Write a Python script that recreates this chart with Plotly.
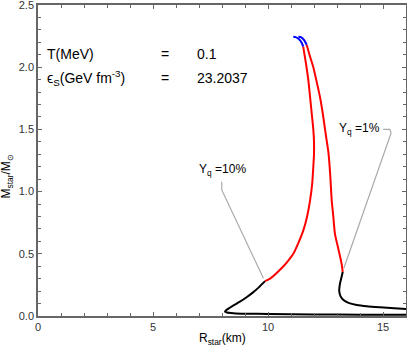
import plotly.graph_objects as go

# Yq = 10% branch (radius km, mass Msun)
r10_black = [16.0, 14.0, 12.0, 10.0, 9.0, 8.5, 8.22, 8.13, 8.2, 8.45, 8.78, 9.1, 9.35, 9.6, 9.87]
m10_black = [0.010, 0.011, 0.013, 0.016, 0.019, 0.023, 0.028, 0.035, 0.05, 0.08, 0.115, 0.155, 0.19, 0.23, 0.28]
r10_red = [9.87, 10.09, 10.4, 10.67, 10.9, 11.1, 11.35, 11.54, 11.7, 11.83, 11.92, 11.97, 12.0, 12.0, 11.97, 11.9, 11.83, 11.75, 11.65, 11.53]
m10_red = [0.28, 0.30, 0.35, 0.40, 0.45, 0.50, 0.60, 0.69, 0.80, 0.93, 1.06, 1.20, 1.30, 1.40, 1.50, 1.63, 1.76, 1.90, 2.03, 2.165]
r10_blue = [11.53, 11.47, 11.35, 11.2, 11.10]
m10_blue = [2.165, 2.195, 2.225, 2.242, 2.245]

# Yq = 1% branch
r1_blue = [11.32, 11.45, 11.58, 11.68]
m1_blue = [2.245, 2.24, 2.215, 2.18]
r1_red = [11.68, 11.82, 11.97, 12.12, 12.26, 12.38, 12.48, 12.56, 12.63, 12.7, 12.77, 12.84, 12.91, 13.02, 13.13, 13.2, 13.25]
m1_red = [2.18, 2.09, 2.0, 1.88, 1.76, 1.63, 1.50, 1.40, 1.31, 1.15, 0.93, 0.80, 0.66, 0.57, 0.48, 0.42, 0.355]
r1_black = [13.25, 13.18, 13.13, 13.1, 13.1, 13.15, 13.27, 13.5, 13.86, 14.3, 14.87, 15.5, 16.03]
m1_black = [0.355, 0.30, 0.26, 0.22, 0.195, 0.16, 0.13, 0.105, 0.088, 0.078, 0.07, 0.062, 0.056]

# annotation pointer lines
ptr10_x = [7.99, 7.99, 9.80]
ptr10_y = [1.08, 1.013, 0.303]
ptr1_x = [15.01, 15.30, 15.35, 13.30]
ptr1_y = [1.50, 1.50, 1.47, 0.386]

x_ticks = [0, 5, 10, 15]
y_ticks = [0.0, 0.5, 1.0, 1.5, 2.0, 2.5]

FONT = "Liberation Sans, Arial, sans-serif"

fig = go.Figure()
for xs, ys, col in [
    (ptr10_x, ptr10_y, "#aaaaaa"),
    (ptr1_x, ptr1_y, "#aaaaaa"),
]:
    fig.add_trace(go.Scatter(x=xs, y=ys, mode="lines", line=dict(color=col, width=1.2), showlegend=False, hoverinfo="skip"))

for xs, ys, col in [
    (r10_black, m10_black, "black"),
    (r10_red, m10_red, "red"),
    (r10_blue, m10_blue, "blue"),
    (r1_black, m1_black, "black"),
    (r1_red, m1_red, "red"),
    (r1_blue, m1_blue, "blue"),
]:
    fig.add_trace(go.Scatter(x=xs, y=ys, mode="lines", line=dict(color=col, width=2, shape="spline", smoothing=0.6), showlegend=False))

axis_common = dict(
    showline=True, linecolor="#666666", linewidth=1.5, mirror="ticks",
    ticks="inside", ticklen=4, tickcolor="#666666", tickwidth=1,
    showgrid=False, zeroline=False, automargin=False, ticklabeloverflow="allow",
    tickfont=dict(family=FONT, size=11, color="#333333"),
)

fig.update_xaxes(range=[0, 16], tickvals=x_ticks, ticktext=[str(v) for v in x_ticks],
                 minor=dict(dtick=1, ticks="inside", ticklen=3, tickcolor="#666666", showgrid=False),
                 **axis_common)
fig.update_yaxes(range=[0, 2.5], tickvals=y_ticks, ticktext=[f"{v:.1f}" for v in y_ticks],
                 minor=dict(dtick=0.1, ticks="inside", ticklen=3, tickcolor="#666666", showgrid=False),
                 **axis_common)

ann_font = dict(family=FONT, size=14, color="black")
lab_font = dict(family=FONT, size=12, color="black")
annotations = [
    dict(x=0.3, y=2.106, text="T(MeV)", xanchor="left", font=ann_font),
    dict(x=0.3, y=1.913, text="ϵ<sub>S</sub>(GeV fm<sup>-3</sup>)", xanchor="left", font=ann_font),
    dict(x=5.52, y=2.106, text="=", xanchor="center", font=ann_font),
    dict(x=5.52, y=1.913, text="=", xanchor="center", font=ann_font),
    dict(x=6.83, y=2.106, text="0.1", xanchor="left", font=ann_font),
    dict(x=6.83, y=1.913, text="23.2037", xanchor="left", font=ann_font),
    dict(x=6.91, y=1.174, text="Y<sub>q</sub> =10%", xanchor="left", font=lab_font),
    dict(x=13.0, y=1.503, text="Y<sub>q</sub> =1%", xanchor="left", font=lab_font),
    dict(x=0.5, y=-0.075, xref="paper", yref="paper", text="R<sub>star</sub>(km)", xanchor="center", yanchor="middle",
         font=dict(family=FONT, size=12, color="black")),
    dict(x=-0.083, y=0.45, xref="paper", yref="paper", text="M<sub>star</sub>/M<sub>⊙</sub>", textangle=-90,
         xanchor="center", yanchor="middle", font=dict(family=FONT, size=12, color="black")),
]
for a in annotations:
    a.setdefault("showarrow", False)
fig.update_layout(
    annotations=annotations,
    width=407, height=353,
    margin=dict(l=38, r=1, t=5, b=37),
    plot_bgcolor="white", paper_bgcolor="white",
    showlegend=False,
)
fig.write_html("out.html", config={"displayModeBar": False},
               post_script="document.body.style.margin='0';document.body.style.overflow='hidden';")
